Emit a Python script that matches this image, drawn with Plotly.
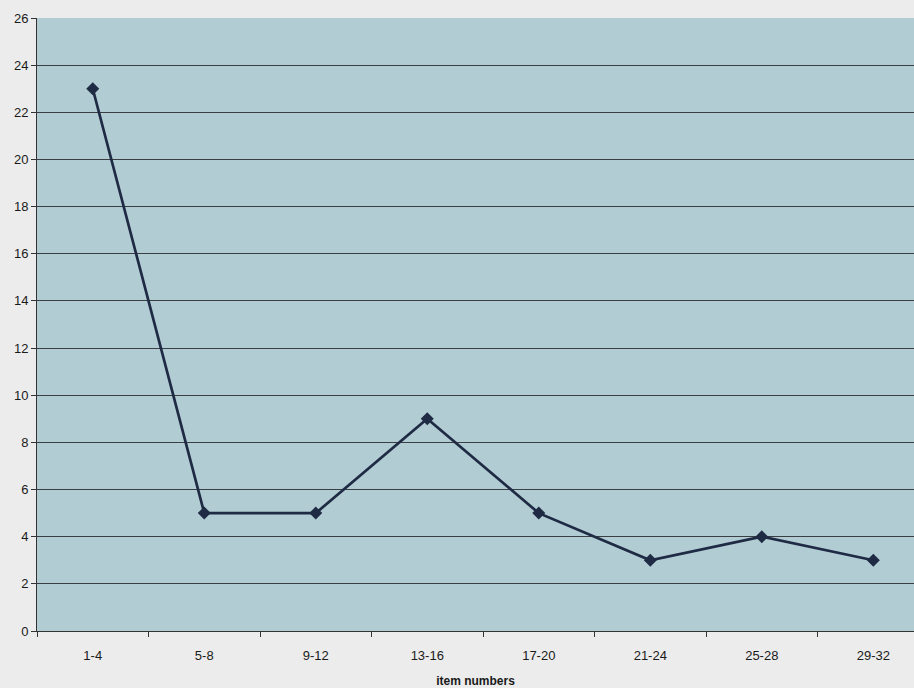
import plotly.graph_objects as go

categories = ["1-4", "5-8", "9-12", "13-16", "17-20", "21-24", "25-28", "29-32"]
values = [23, 5, 5, 9, 5, 3, 4, 3]
y_ticks = list(range(0, 27, 2))

fig = go.Figure()
fig.add_trace(go.Scatter(
    x=categories, y=values, mode="lines+markers",
    line=dict(color="#1f2a44", width=2.7),
    marker=dict(symbol="diamond", size=10, color="#1f2a44"),
    showlegend=False,
))

fig.update_layout(
    width=914, height=688,
    margin=dict(l=37, r=0, t=18, b=57),
    paper_bgcolor="#ececec",
    plot_bgcolor="#b1ccd2",
    font=dict(family="Liberation Sans, Arial, sans-serif", size=13, color="#1a1a1a"),
)
fig.update_xaxes(
    type="category", range=[-0.5, 7.365],
    tickson="boundaries", ticks="outside", ticklen=5, tickcolor="#333333",
    ticklabelstandoff=12,
    showgrid=False, showline=True, linecolor="#333333", linewidth=1,
    title=dict(text="<b>item numbers</b>", font=dict(size=12), standoff=15),
    tickfont=dict(size=13),
)
fig.update_yaxes(
    range=[0, 26], tickvals=y_ticks, ticks="outside", ticklen=5, tickcolor="#333333",
    showgrid=True, gridcolor="#3a3f44", gridwidth=1,
    showline=True, linecolor="#333333", linewidth=1, zeroline=False,
    tickfont=dict(size=13),
)

fig.write_html(
    "out.html",
    config={"displayModeBar": False},
    post_script="document.body.style.margin='0';document.body.style.overflow='hidden';",
)
